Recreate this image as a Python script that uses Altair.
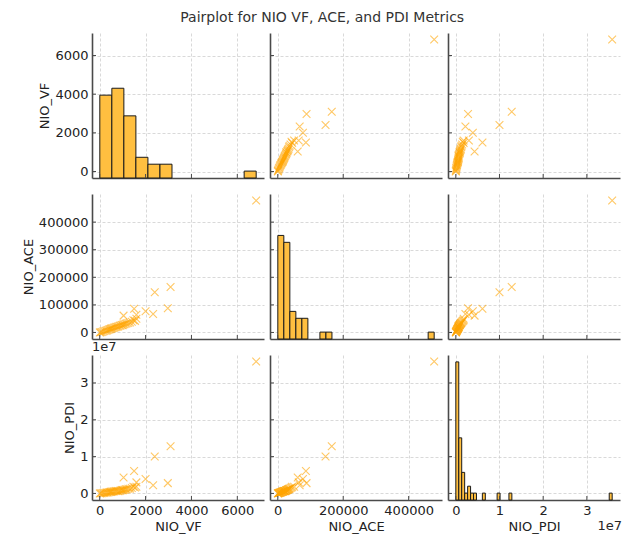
import altair as alt
import numpy as np
import pandas as pd

# ---------------- data (42 seasons) ----------------
NIO_VF = [5, 40, 90, 150, 200, 260, 310, 350, 400, 440, 480, 510,
          550, 600, 640, 690, 730, 780, 820, 870, 910, 960, 1000, 1030,
          1080, 1130, 1180, 1250, 1320, 1400, 1470, 1540,
          6823, 3090, 2400, 2970, 2000, 2330, 1500, 1040, 1600, 1600]
NIO_ACE = [200, 800, 2000, 3500, 5000, 6200, 7500, 9000, 10500, 11500, 13000, 14500,
           15500, 16500, 17800, 19000, 20500, 21000, 22500, 24000, 25500, 27000, 26000, 29000,
           30000, 31500, 33000, 34500, 36000, 39000, 44000, 42000,
           478000, 165000, 146000, 88000, 77000, 67000, 86000, 61000, 64000, 50000]
NIO_PDI = [5000, 20000, 55000, 100000, 150000, 190000, 230000, 280000, 330000, 370000, 420000, 470000,
           510000, 550000, 600000, 640000, 670000, 660000, 620000, 665000, 800000, 900000, 850000, 950000,
           1000000, 1100000, 1150000, 1250000, 1300000, 1450000, 1800000, 1600000,
           35800000, 12800000, 10000000, 2800000, 3900000, 2200000, 6100000, 4300000, 3000000, 1800000]

VARS = ["NIO_VF", "NIO_ACE", "NIO_PDI"]
X_TICKS = {"NIO_VF": [0, 2000, 4000, 6000],
           "NIO_ACE": [0, 200000, 400000],
           "NIO_PDI": [0, 10000000, 20000000, 30000000]}
Y_TICKS = {"NIO_VF": [0, 2000, 4000, 6000],
           "NIO_ACE": [0, 100000, 200000, 300000, 400000],
           "NIO_PDI": [0, 10000000, 20000000, 30000000]}
HIST_BINS = {"NIO_VF": 13, "NIO_ACE": 26, "NIO_PDI": 53}
HIST_COUNT_MAX = 21
TITLE = "Pairplot for NIO VF, ACE, and PDI Metrics"

data = {"NIO_VF": NIO_VF, "NIO_ACE": NIO_ACE, "NIO_PDI": NIO_PDI}
df = pd.DataFrame(data)

# ---------------- style ----------------
W, H = 172, 145
TICK_LEN = 4
FONT = "DejaVu Sans"
PT_COLOR = "#FFA500"
BAR_FILL = "#FFBF40"
AXIS_COLOR = "#4a4a4a"
X_SHAPE = "M-1,-1L1,1M-1,1L1,-1"
LABEL_EXPR = {"NIO_PDI": "format(datum.value / 10000000, 'd')"}


def dom(v):
    lo, hi = min(data[v]), max(data[v])
    m = 0.05 * (hi - lo)
    return [lo - m, hi + m]


def scale(v):
    return alt.Scale(domain=dom(v), nice=False, zero=False)


def make_axis(v, show, ticks):
    kw = dict(values=ticks, grid=True, labels=show, format="d",
              title=v if show else None)
    if v in LABEL_EXPR:
        kw["labelExpr"] = LABEL_EXPR[v]
    return alt.Axis(**kw)


def offset_text(x, y, align):
    return alt.Chart(pd.DataFrame({"t": ["1e7"]})).mark_text(
        align=align, baseline="bottom", font=FONT, fontSize=13, color="#262626"
    ).encode(text="t:N", x=alt.value(x), y=alt.value(y))


def inner_ticks(xv, yv, xaxis, y_axis_obj):
    """Inward-pointing tick marks, drawn at the axis tick values."""
    xt = alt.Chart(pd.DataFrame({"t": X_TICKS[xv]})).mark_rule(
        color=AXIS_COLOR, strokeWidth=1
    ).encode(x=alt.X("t:Q", scale=scale(xv), axis=xaxis),
             y=alt.value(H), y2=alt.value(H - TICK_LEN))
    yt = alt.Chart(pd.DataFrame({"t": Y_TICKS[yv]})).mark_rule(
        color=AXIS_COLOR, strokeWidth=1
    ).encode(y=alt.Y("t:Q", scale=scale(yv), axis=y_axis_obj),
             x=alt.value(0), x2=alt.value(TICK_LEN))
    return [xt, yt]


def scatter_layers(xv, yv, r, c):
    xaxis = make_axis(xv, r == 2, X_TICKS[xv])
    yaxis = make_axis(yv, c == 0, Y_TICKS[yv])
    pts = alt.Chart(df).mark_point(
        shape=X_SHAPE, filled=False, size=60, strokeWidth=1.1,
        color=PT_COLOR, opacity=0.6
    ).encode(
        x=alt.X(f"{xv}:Q", scale=scale(xv), axis=xaxis),
        y=alt.Y(f"{yv}:Q", scale=scale(yv), axis=yaxis),
    )
    return [pts] + inner_ticks(xv, yv, xaxis, yaxis)


def hist_table(v):
    counts, edges = np.histogram(data[v], bins=HIST_BINS[v])
    t = pd.DataFrame({"b0": edges[:-1], "b1": edges[1:], "n": counts})
    return t[t["n"] > 0]


def diag_layers(v, i):
    xaxis = make_axis(v, i == 2, X_TICKS[v])
    yaxis = make_axis(v, i == 0, Y_TICKS[v])
    base = alt.Chart(df).mark_point(opacity=0).encode(
        x=alt.X(f"{v}:Q", scale=scale(v), axis=xaxis),
        y=alt.Y(f"{v}:Q", scale=scale(v), axis=yaxis),
    )
    hist = alt.Chart(hist_table(v)).mark_rect(
        fill=BAR_FILL, stroke="#1a1a1a", strokeWidth=1
    ).encode(
        x=alt.X("b0:Q", scale=scale(v), axis=xaxis),
        x2="b1",
        y=alt.Y("n:Q", scale=alt.Scale(domain=[0, HIST_COUNT_MAX], nice=False, zero=True), axis=None),
        y2=alt.datum(0),
    )
    return [base, hist] + inner_ticks(v, v, xaxis, None)


panels = []
for r, yv in enumerate(VARS):
    for c, xv in enumerate(VARS):
        if r == c:
            layers = diag_layers(xv, r)
            if r == 2:
                layers.append(offset_text(W + 2, H + 33, "right"))
            p = alt.layer(*layers).resolve_scale(y="independent")
        else:
            layers = scatter_layers(xv, yv, r, c)
            if r == 2 and c == 0:
                layers.append(offset_text(0, -1, "left"))
            p = alt.layer(*layers)
        panels.append(p.properties(width=W, height=H))

chart = alt.concat(
    *panels, columns=3, spacing={"row": 16, "column": 6}, bounds="flush",
    title=alt.Title(TITLE, frame="bounds", anchor="middle", offset=8,
                    font=FONT, fontSize=14, fontWeight="normal", color="#333333"),
    padding={"left": 14, "top": 3, "right": 0, "bottom": 5},
).configure_view(
    stroke=None
).configure_axis(
    domainColor=AXIS_COLOR, domainWidth=1.6,
    gridColor="#cfcfcf", gridDash=[3, 2], gridWidth=0.8,
    ticks=False, labelPadding=4,
    labelFont=FONT, labelFontSize=13, labelColor="#222222",
    titleFont=FONT, titleFontSize=13, titleFontWeight="normal", titleColor="#222222",
    titlePadding=3,
)

chart.save("out.html", embed_options={"renderer": "svg", "actions": False})
